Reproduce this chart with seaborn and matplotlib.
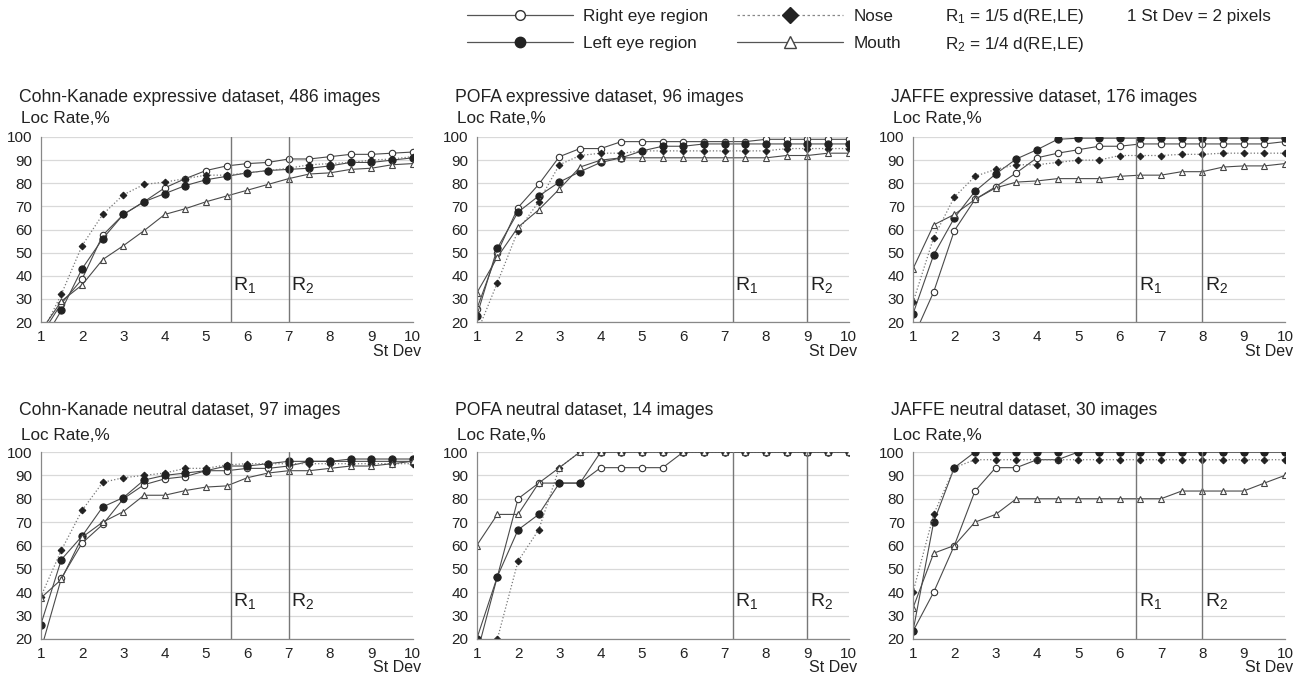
import numpy as np
import pandas as pd
import matplotlib
matplotlib.use("Agg")
import matplotlib.pyplot as plt
from matplotlib.lines import Line2D
import seaborn as sns

sns.set_style("white")
plt.rcParams['font.family'] = ['Liberation Sans', 'DejaVu Sans']
plt.rcParams['mathtext.fontset'] = 'custom'
plt.rcParams['mathtext.rm'] = 'Liberation Sans'
plt.rcParams['mathtext.it'] = 'Liberation Sans:italic'

st_dev = [1, 1.5, 2, 2.5, 3, 3.5, 4, 4.5, 5, 5.5, 6, 6.5, 7, 7.5, 8, 8.5, 9, 9.5, 10]

titles = ["Cohn-Kanade expressive dataset, 486 images",
          "POFA expressive dataset, 96 images",
          "JAFFE expressive dataset, 176 images",
          "Cohn-Kanade neutral dataset, 97 images",
          "POFA neutral dataset, 14 images",
          "JAFFE neutral dataset, 30 images"]

r1_pos = [5.6, 7.2, 6.4, 5.6, 7.2, 6.4]
r2_pos = [7.0, 9.0, 8.0, 7.0, 9.0, 8.0]

# Cohn-Kanade expressive
ck_exp_right = [14, 28, 38.5, 57.5, 66.5, 72, 78, 82, 85.5, 87.5, 88.5, 89, 90.5, 90.5, 91.5, 92.5, 92.5, 93, 93.5]
ck_exp_left = [10, 25, 43, 56, 66.5, 72, 75.5, 79, 81.5, 83, 84.5, 85.5, 86, 86.5, 87.5, 89, 89, 90, 91]
ck_exp_nose = [14, 32, 53, 66.5, 75, 79.5, 80.5, 82, 83.5, 83.5, 84.5, 85.5, 86.5, 88, 88.5, 89, 90, 90.5, 91.5]
ck_exp_mouth = [16, 29, 36, 47, 53, 59.5, 66.5, 69, 72, 74.5, 77, 79.5, 82, 84, 84.5, 86, 86.5, 88, 88.5]

# POFA expressive
pofa_exp_right = [25.5, 50, 69.5, 79.5, 91.5, 95, 95, 98, 98, 98, 98, 98, 98, 98, 99, 99, 99, 99, 99]
pofa_exp_left = [22.5, 52, 67.5, 74.5, 80.5, 85, 89, 91, 94, 96, 96, 97, 97, 97, 97, 97, 97, 97, 97]
pofa_exp_nose = [15, 37, 59.5, 72, 88, 92, 93, 93, 94, 94, 94, 94, 94, 94, 94, 95, 95, 95, 95]
pofa_exp_mouth = [32.5, 48, 61, 68.5, 77.5, 87, 90, 91, 91, 91, 91, 91, 91, 91, 91, 92, 92, 93, 93]

# JAFFE expressive
jaffe_exp_right = [13, 33, 59.5, 73, 78.5, 84.5, 91, 93, 94.5, 96, 96, 97, 97, 97, 97, 97, 97, 97, 98]
jaffe_exp_left = [23.5, 49, 65, 76.5, 84, 90.5, 94.5, 99, 99.5, 99.5, 99.5, 99.5, 99.5, 99.5, 99.5, 99.5, 99.5, 99.5, 99.5]
jaffe_exp_nose = [28.5, 56.5, 74, 83, 86, 88, 88, 89, 90, 90, 92, 92, 92, 92.5, 92.5, 93, 93, 93, 93]
jaffe_exp_mouth = [43, 62, 66.5, 73, 78, 80.5, 81, 82, 82, 82, 83, 83.5, 83.5, 85, 85, 87, 87.5, 87.5, 88.5]

# Cohn-Kanade neutral
ck_neu_right = [15, 46, 61, 69, 80, 86, 88.5, 89.5, 92, 92, 93, 93, 94, 96, 96, 96, 96, 96, 96]
ck_neu_left = [26, 54, 64, 76.5, 80.5, 88, 90, 91, 92, 94, 94, 95, 96, 96, 96, 97, 97, 97, 97]
ck_neu_nose = [38, 58, 75, 87, 89, 90, 91, 93, 93, 94.5, 95, 95, 95, 95, 95, 95, 95, 95, 95]
ck_neu_mouth = [37.5, 45.5, 63.5, 70, 74.5, 81.5, 81.5, 83.5, 85, 85.5, 89, 91, 92, 92, 93, 94, 94, 95, 96]

# POFA neutral
pofa_neu_right = [13.3, 46.7, 80, 86.7, 86.7, 86.7, 93.3, 93.3, 93.3, 93.3, 100, 100, 100, 100, 100, 100, 100, 100, 100]
pofa_neu_left = [20, 46.7, 66.7, 73.3, 86.7, 86.7, 100, 100, 100, 100, 100, 100, 100, 100, 100, 100, 100, 100, 100]
pofa_neu_nose = [0, 20, 53.3, 66.7, 93.3, 100, 100, 100, 100, 100, 100, 100, 100, 100, 100, 100, 100, 100, 100]
pofa_neu_mouth = [60, 73.3, 73.3, 86.7, 93.3, 100, 100, 100, 100, 100, 100, 100, 100, 100, 100, 100, 100, 100, 100]

# JAFFE neutral
jaffe_neu_right = [23.3, 40, 60, 83.3, 93.3, 93.3, 96.7, 96.7, 100, 100, 100, 100, 100, 100, 100, 100, 100, 100, 100]
jaffe_neu_left = [23.3, 70, 93.3, 100, 100, 100, 100, 100, 100, 100, 100, 100, 100, 100, 100, 100, 100, 100, 100]
jaffe_neu_nose = [40, 73.3, 93.3, 96.7, 96.7, 96.7, 96.7, 96.7, 96.7, 96.7, 96.7, 96.7, 96.7, 96.7, 96.7, 96.7, 96.7, 96.7, 96.7]
jaffe_neu_mouth = [33.3, 56.7, 60, 70, 73.3, 80, 80, 80, 80, 80, 80, 80, 80, 83.3, 83.3, 83.3, 83.3, 86.7, 90]

panels = [
    (ck_exp_right, ck_exp_left, ck_exp_nose, ck_exp_mouth),
    (pofa_exp_right, pofa_exp_left, pofa_exp_nose, pofa_exp_mouth),
    (jaffe_exp_right, jaffe_exp_left, jaffe_exp_nose, jaffe_exp_mouth),
    (ck_neu_right, ck_neu_left, ck_neu_nose, ck_neu_mouth),
    (pofa_neu_right, pofa_neu_left, pofa_neu_nose, pofa_neu_mouth),
    (jaffe_neu_right, jaffe_neu_left, jaffe_neu_nose, jaffe_neu_mouth),
]

W, H = 1307, 679
fig = plt.figure(figsize=(W / 100, H / 100), dpi=100)

lefts = [40.7, 476.7, 913]
tops = [137, 452]
bottoms = [322, 639]
title_base = [102, 415]
loc_base = [123, 440]
aw = 372

line_col = '#4a4a4a'
txt_col = '#222222'

styles = [
    dict(marker='o', color=line_col, lw=0.8, ms=4.6, mfc='white', mec='#333333', mew=0.8),
    dict(marker='o', color=line_col, lw=0.8, ms=5.2, mfc='#222222', mec='#222222'),
    dict(marker='D', color='#777777', lw=0.9, ls=':', ms=3.4, mfc='#222222', mec='#222222'),
    dict(marker='^', color=line_col, lw=0.8, ms=5, mfc='white', mec='#444444', mew=0.8),
]

for i, series in enumerate(panels):
    row, col = divmod(i, 3)
    l = lefts[col]
    t, b = tops[row], bottoms[row]
    ax = fig.add_axes([l / W, 1 - b / H, aw / W, (b - t) / H])
    for vals, st in zip(series, styles):
        st = dict(st)
        ls = st.pop('ls', '-')
        sns.lineplot(x=st_dev, y=vals, ax=ax, linestyle=ls, **st)
    ax.set_xlim(1, 10)
    ax.set_ylim(20, 100)
    ax.set_xticks(range(1, 11))
    ax.set_xticks(st_dev, minor=True)
    ax.set_yticks(range(20, 101, 10))
    ax.tick_params(axis='both', labelsize=11, colors='#888888', labelcolor=txt_col,
                   length=4, width=0.8, pad=2)
    ax.tick_params(axis='x', which='minor', length=4, colors='#888888', width=0.8)
    ax.grid(axis='y', color='#d9d9d9', lw=0.9)
    ax.set_axisbelow(True)
    for s in ['top', 'right']:
        ax.spines[s].set_visible(False)
    for s in ['left', 'bottom']:
        ax.spines[s].set_color('#888888')
        ax.spines[s].set_linewidth(0.9)
    ax.set_xlabel('')
    ax.set_ylabel('')
    for xv, lab in [(r1_pos[i], r'R$_1$'), (r2_pos[i], r'R$_2$')]:
        ax.axvline(xv, color='#777777', lw=1.0)
        ax.text(xv + 0.06, 34, lab, fontsize=14, color=txt_col, va='baseline', ha='left')
    ax.text(1.0 + 8 / aw, -29 / (b - t), 'St Dev', transform=ax.transAxes,
            ha='right', va='center', fontsize=11.5, color=txt_col)
    fig.text((l - 22) / W, 1 - title_base[row] / H, titles[i], fontsize=12.7, color=txt_col,
             ha='left', va='baseline')
    fig.text((l - 20) / W, 1 - loc_base[row] / H, 'Loc Rate,%', fontsize=12.3, color=txt_col,
             ha='left', va='baseline')

handles = [
    Line2D([], [], color='#555555', lw=0.9, marker='o', ms=7, mfc='white', mec='#333333'),
    Line2D([], [], color='#555555', lw=0.9, marker='o', ms=7.5, mfc='#222222', mec='#222222'),
    Line2D([], [], color='#888888', lw=0.9, ls=(0, (2, 2)), marker='D', ms=8, mfc='#222222', mec='#222222'),
    Line2D([], [], color='#555555', lw=0.9, marker='^', ms=9, mfc='white', mec='#444444'),
]
labels = ['Right eye region', 'Left eye region', 'Nose', 'Mouth']
fig.legend(handles, labels, ncol=2, loc='upper left', bbox_to_anchor=(467 / W, 1 - 9 / H),
           frameon=False, fontsize=12.3, handlelength=6.2, handletextpad=0.6,
           columnspacing=1.7, labelspacing=0.73, borderpad=0, borderaxespad=0,
           labelcolor=txt_col)

fig.text(945 / W, 1 - 16 / H, r'R$_1$ = 1/5 d(RE,LE)', fontsize=12.3, color=txt_col, va='center')
fig.text(945 / W, 1 - 44 / H, r'R$_2$ = 1/4 d(RE,LE)', fontsize=12.3, color=txt_col, va='center')
fig.text(1127 / W, 1 - 16 / H, '1 St Dev = 2 pixels', fontsize=12.3, color=txt_col, va='center')

fig.savefig('out.png', dpi=100)
